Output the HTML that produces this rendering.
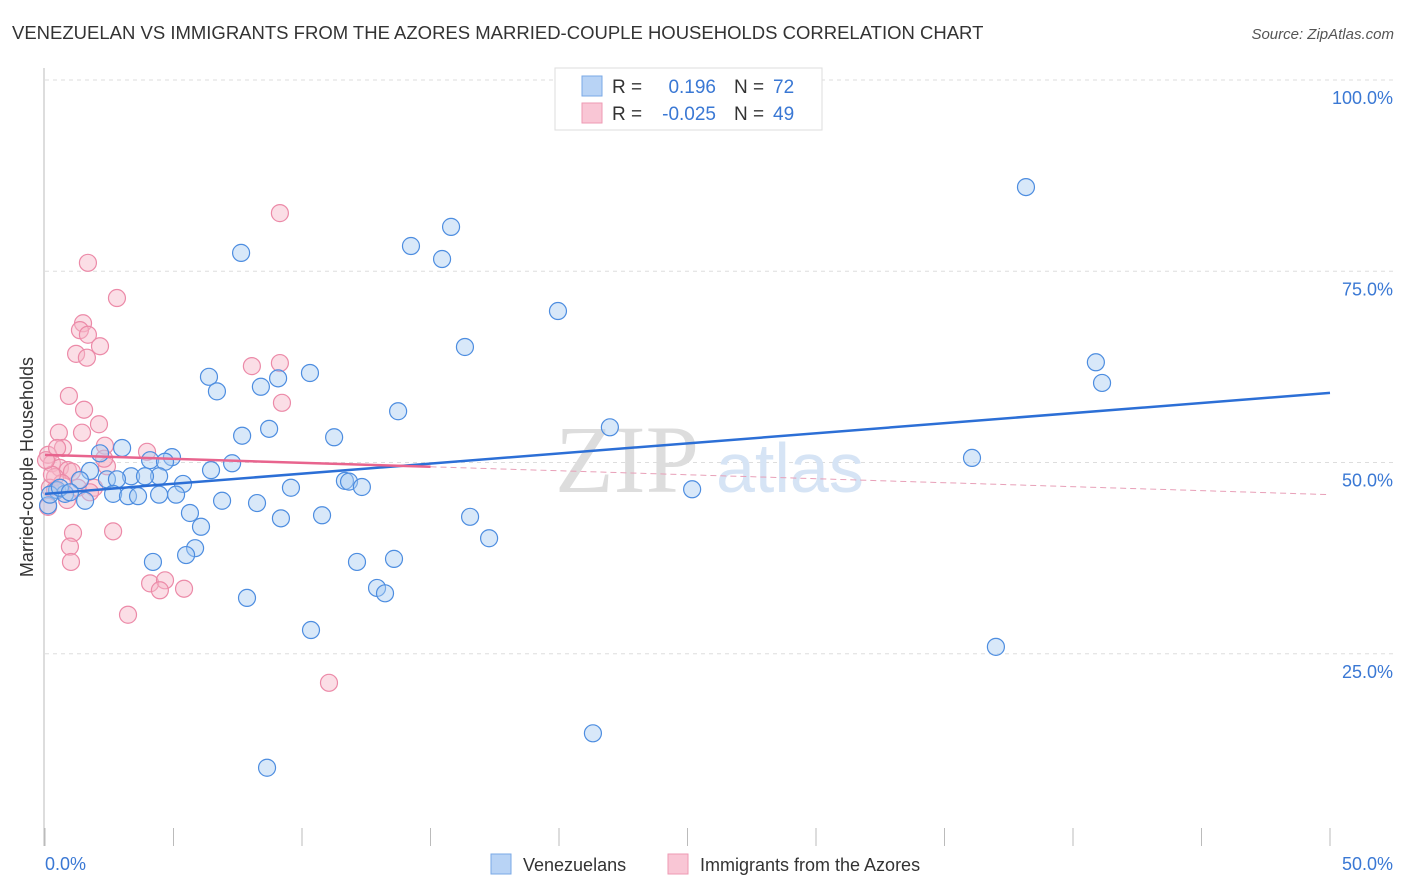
<!DOCTYPE html>
<html><head><meta charset="utf-8"><style>
body{margin:0;background:#fff;font-family:"Liberation Sans",sans-serif;}
svg{display:block}
</style></head><body>
<svg width="1406" height="892" xmlns="http://www.w3.org/2000/svg">
<text x="12" y="39" font-size="18.5" fill="#333">VENEZUELAN VS IMMIGRANTS FROM THE AZORES MARRIED-COUPLE HOUSEHOLDS CORRELATION CHART</text>
<text x="1394" y="39" font-size="15" fill="#555" font-style="italic" text-anchor="end">Source: ZipAtlas.com</text>
<g id="grid"></g>
<text x="555" y="492" font-size="96" fill="#ddd" font-family="Liberation Serif">ZIP</text>
<text x="716" y="492" font-size="70" fill="#d6e4f5">atlas</text>
<line x1="44" y1="68" x2="44" y2="846" stroke="#bbb"/>
<g id="ticks"></g>
<text x="22" y="456" font-size="18" fill="#333" text-anchor="middle" transform="rotate(-90 33 456)">Married-couple Households</text>
<text x="45" y="870" font-size="18" fill="#3a78d4">0.0%</text>
<text x="1393" y="870" font-size="18" fill="#3a78d4" text-anchor="end">50.0%</text>
<g id="pts"></g>
<g id="trend"></g>
<g>
<rect x="555" y="68" width="267" height="62" fill="#fff" stroke="#ddd"/>
<rect x="582" y="76" width="20" height="20" fill="#b8d3f5" stroke="#7aa8e6"/>
<rect x="582" y="103" width="20" height="20" fill="#f9c6d5" stroke="#ee9ab3"/>
<text x="612" y="93" font-size="19" fill="#333">R =</text>
<text x="716" y="93" font-size="19" fill="#3a78d4" text-anchor="end">0.196</text>
<text x="734" y="93" font-size="19" fill="#333">N =</text>
<text x="773" y="93" font-size="19" fill="#3a78d4">72</text>
<text x="612" y="120" font-size="19" fill="#333">R =</text>
<text x="716" y="120" font-size="19" fill="#3a78d4" text-anchor="end">-0.025</text>
<text x="734" y="120" font-size="19" fill="#333">N =</text>
<text x="773" y="120" font-size="19" fill="#3a78d4">49</text>
</g>
<g>
<rect x="491" y="854" width="20" height="20" fill="#b8d3f5" stroke="#7aa8e6"/>
<text x="523" y="871" font-size="18" fill="#333">Venezuelans</text>
<rect x="668" y="854" width="20" height="20" fill="#f9c6d5" stroke="#ee9ab3"/>
<text x="700" y="871" font-size="18" fill="#333">Immigrants from the Azores</text>
</g>
</svg>
<script>
const NS='http://www.w3.org/2000/svg';
const bluePx=[[1026,187],[451,227],[411,246],[241,253],[442,259],[558,311],[465,347],[1096,362],[1102,383],[310,373],[209,377],[278,378],[217,391],[261,387],[398,411],[610,427],[242,436],[269,429],[334,437],[122,448],[100,453],[172,457],[150,460],[165,462],[972,458],[232,463],[211,470],[90,471],[131,476],[159,476],[145,476],[107,479],[117,479],[80,480],[345,481],[349,482],[183,484],[362,487],[291,488],[692,489],[57,490],[65,494],[113,494],[128,496],[138,496],[159,495],[176,495],[222,501],[257,503],[85,501],[190,513],[322,515],[281,518],[470,517],[201,527],[489,538],[195,548],[186,555],[394,559],[153,562],[357,562],[377,588],[385,593],[247,598],[311,630],[996,647],[593,733],[267,768],[48,505],[50,495],[60,488],[70,492]];
const pinkPx=[[280,213],[88,263],[117,298],[83,323],[80,330],[88,335],[100,346],[76,354],[87,358],[280,363],[252,366],[69,396],[84,410],[282,403],[99,424],[82,433],[59,433],[63,448],[147,452],[105,446],[48,455],[52,463],[60,468],[68,470],[55,477],[107,466],[72,472],[50,488],[62,483],[78,488],[94,488],[67,500],[48,507],[55,490],[113,531],[73,533],[70,547],[71,562],[150,583],[165,580],[160,590],[184,589],[128,615],[329,683],[52,475],[46,460],[57,448],[104,459],[90,492]];
const blueX=bluePx.map(p=>+((p[0]-45)/1285*50).toFixed(2));
const blueY=bluePx.map(p=>+((845-p[1])/765*100).toFixed(1));
const pinkX=pinkPx.map(p=>+((p[0]-45)/1285*50).toFixed(2));
const pinkY=pinkPx.map(p=>+((845-p[1])/765*100).toFixed(1));
const yTicks=[25,50,75,100];
const yTickLabels=['25.0%','50.0%','75.0%','100.0%'];
const blueTrend=[45.9,59.1];
const pinkTrend=[51.0,45.8];
const sx=v=>45+v/50*1285, sy=v=>845-v/100*765;
function mk(t,a,p){const e=document.createElementNS(NS,t);for(const k in a)e.setAttribute(k,a[k]);p.appendChild(e);return e;}
const grid=document.getElementById('grid');
yTicks.forEach((v,i)=>{
 const l=mk('line',{x1:45,x2:1393,y1:sy(v),y2:sy(v),stroke:'#ddd','stroke-dasharray':'4,4'},grid);
 
 
 const t=mk('text',{x:1393,y:sy(v)+24,'font-size':18,fill:'#3a78d4','text-anchor':'end'},grid);
 t.textContent=yTickLabels[i];
 
 
});
const tk=document.getElementById('ticks');
for(let i=0;i<=10;i++){
 const l=mk('line',{x1:sx(i*5),x2:sx(i*5),y1:828,y2:846,stroke:'#bbb'},tk);
 
 
}
const pts=document.getElementById('pts');
function draw(xs,ys,f,s,n){xs.forEach((x,i)=>{const c=mk('circle',{cx:sx(x),cy:sy(ys[i]),r:8.5,fill:f,'fill-opacity':0.45,stroke:s,'stroke-width':1.2},pts);
 
 });}
draw(pinkX,pinkY,'#f7b5c8','#ec8aa8','point-azores');
draw(blueX,blueY,'#a9cbf2','#4d8de0','point-venezuelan');
const tr=document.getElementById('trend');
let l=mk('line',{x1:sx(0),y1:sy(blueTrend[0]),x2:sx(50),y2:sy(blueTrend[1]),stroke:'#2c6fd6','stroke-width':2.5},tr);


const px=15;const pm=pinkTrend[0]+(pinkTrend[1]-pinkTrend[0])*px/50;
l=mk('line',{x1:sx(0),y1:sy(pinkTrend[0]),x2:sx(px),y2:sy(pm),stroke:'#e8648e','stroke-width':2.5},tr);


l=mk('line',{x1:sx(px),y1:sy(pm),x2:sx(50),y2:sy(pinkTrend[1]),stroke:'#e8a0b8','stroke-width':1,'stroke-dasharray':'6,4'},tr);


</script>
</body></html>
